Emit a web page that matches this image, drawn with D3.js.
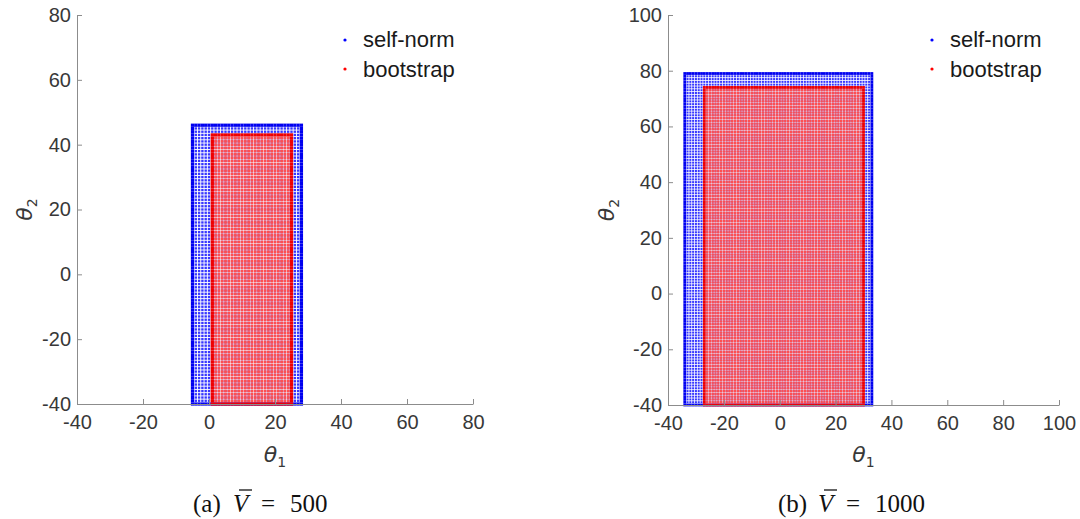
<!DOCTYPE html>
<html>
<head>
<meta charset="utf-8">
<script src="https://cdn.jsdelivr.net/npm/d3@7"></script>
<style>
  html, body { margin: 0; padding: 0; background: #fff; }
  svg { display: block; }
</style>
</head>
<body>
<div id="chart"></div>
<script>
// Confidence regions on a theta grid, two panels (V bar = 500, V bar = 1000)

// grid step of the plotted theta points
const gridStep = 1;

// panel (a)
const aXTicks = [-40, -20, 0, 20, 40, 60, 80];
const aYTicks = [-40, -20, 0, 20, 40, 60, 80];
// region as [theta2 from, theta2 to, theta1 from, theta1 to]
const aSelfNorm = [-40, 46, -5, 28];
const aBootstrap = [-40, 43, 1, 25];

// panel (b)
const bXTicks = [-40, -20, 0, 20, 40, 60, 80, 100];
const bYTicks = [-40, -20, 0, 20, 40, 60, 80, 100];
const bSelfNorm = [-40, 79, -34, 33];
const bBootstrap = [-40, 74, -27, 30];

const seriesNames = ["self-norm", "bootstrap"];
const seriesColors = ["#0000ff", "#ff0000"];
const fillColors = ["#3636ff", "#ff4f4f"];
const edgeColors = ["#0000f0", "#f00000"];
const markSize = [0.72, 0.84];

const W = 1080, H = 519;
const svg = d3.select("#chart").append("svg")
    .attr("width", W)
    .attr("height", H);

// expand a region into grid points, flag the outline points
function expand(r) {
    const pts = [];
    for (let t2 = r[0]; t2 <= r[1]; t2 += gridStep) {
        for (let t1 = r[2]; t1 <= r[3]; t1 += gridStep) {
            const edge = t1 === r[2] || t1 === r[3] || t2 === r[0] || t2 === r[1];
            pts.push({ t1, t2, edge });
        }
    }
    return pts;
}

function panel(opts) {
    const x = d3.scaleLinear().domain(opts.xDomain).range(opts.xRange);
    const y = d3.scaleLinear().domain(opts.yDomain).range(opts.yRange);
    const g = svg.append("g");

    const unitX = Math.abs(x(gridStep) - x(0));
    const unitY = Math.abs(y(gridStep) - y(0));

    // points: self-norm first, bootstrap on top
    [opts.selfNorm, opts.bootstrap].forEach((region, i) => {
        const pts = expand(region);
        const size = d => d.edge ? 1.0 : markSize[i];
        g.append("g").selectAll("rect")
            .data(pts)
            .enter()
            .append("rect")
            .attr("x", d => x(d.t1) - unitX * size(d) / 2)
            .attr("y", d => y(d.t2) - unitY * size(d) / 2)
            .attr("width", d => unitX * size(d))
            .attr("height", d => unitY * size(d))
            .attr("fill", d => d.edge ? edgeColors[i] : fillColors[i]);
    });

    // axes
    const fmt = d => String(d);
    const xAxis = g.append("g")
        .attr("transform", `translate(0,${opts.yRange[0]})`)
        .call(d3.axisBottom(x).tickValues(opts.xTicks).tickFormat(fmt)
            .tickSizeInner(-5).tickSizeOuter(0).tickPadding(11));
    const yAxis = g.append("g")
        .attr("transform", `translate(${opts.xRange[0]},0)`)
        .call(d3.axisLeft(y).tickValues(opts.yTicks).tickFormat(fmt)
            .tickSizeInner(-5).tickSizeOuter(0).tickPadding(6));

    [xAxis, yAxis].forEach(ax => {
        ax.select(".domain").attr("stroke", "#8c8c8c");
        ax.selectAll(".tick line").attr("stroke", "#8c8c8c");
        ax.selectAll(".tick text")
            .attr("fill", "#383838")
            .attr("font-family", "Liberation Sans, Arial, sans-serif")
            .attr("font-size", "20px");
    });

    // axis titles
    const midX = (opts.xRange[0] + opts.xRange[1]) / 2;
    const midY = (opts.yRange[0] + opts.yRange[1]) / 2;
    const t1 = g.append("text")
        .attr("x", midX)
        .attr("y", 462)
        .attr("text-anchor", "middle")
        .attr("fill", "#383838")
        .attr("font-family", "DejaVu Sans, sans-serif")
        .attr("font-size", "22px");
    t1.append("tspan").attr("font-style", "italic").text("θ");
    t1.append("tspan").attr("font-size", "14px").attr("dy", 5).text("1");

    const t2 = g.append("text")
        .attr("transform", `translate(${opts.yTitleX},${midY}) rotate(-90)`)
        .attr("text-anchor", "middle")
        .attr("fill", "#383838")
        .attr("font-family", "DejaVu Sans, sans-serif")
        .attr("font-size", "22px");
    t2.append("tspan").attr("font-style", "italic").text("θ");
    t2.append("tspan").attr("font-size", "14px").attr("dy", 5).text("2");

    // legend
    seriesNames.forEach((name, i) => {
        g.append("circle")
            .attr("cx", opts.legendX)
            .attr("cy", 40 + i * 29)
            .attr("r", 1.6)
            .attr("fill", seriesColors[i]);
        g.append("text")
            .attr("x", opts.legendX + 18)
            .attr("y", 47 + i * 30)
            .attr("fill", "#1a1a1a")
            .attr("font-family", "Liberation Sans, Arial, sans-serif")
            .attr("font-size", "22px")
            .text(name);
    });

    // caption
    const cap = svg.append("g")
        .attr("font-family", "Liberation Serif, Times New Roman, serif")
        .attr("font-size", "25px")
        .attr("fill", "#111");
    const cx = opts.captionX;
    cap.append("text").attr("x", cx).attr("y", 512).text(opts.captionTag);
    cap.append("text").attr("x", cx + 40).attr("y", 512)
        .attr("font-style", "italic").text("V");
    cap.append("line")
        .attr("x1", cx + 46).attr("x2", cx + 59)
        .attr("y1", 490).attr("y2", 490)
        .attr("stroke", "#111").attr("stroke-width", 1.3);
    cap.append("text").attr("x", cx + 68).attr("y", 512).text("=");
    cap.append("text").attr("x", cx + 97).attr("y", 512).text(opts.captionValue);
}

panel({
    xDomain: [-40, 80], xRange: [77, 473],
    yDomain: [-40, 80], yRange: [404, 15],
    xTicks: aXTicks, yTicks: aYTicks,
    selfNorm: aSelfNorm, bootstrap: aBootstrap,
    yTitleX: 32, legendX: 345,
    captionX: 193, captionTag: "(a)", captionValue: "500"
});

panel({
    xDomain: [-40, 100], xRange: [668, 1059],
    yDomain: [-40, 100], yRange: [405, 15],
    xTicks: bXTicks, yTicks: bYTicks,
    selfNorm: bSelfNorm, bootstrap: bBootstrap,
    yTitleX: 614, legendX: 932,
    captionX: 778, captionTag: "(b)", captionValue: "1000"
});
</script>
</body>
</html>
